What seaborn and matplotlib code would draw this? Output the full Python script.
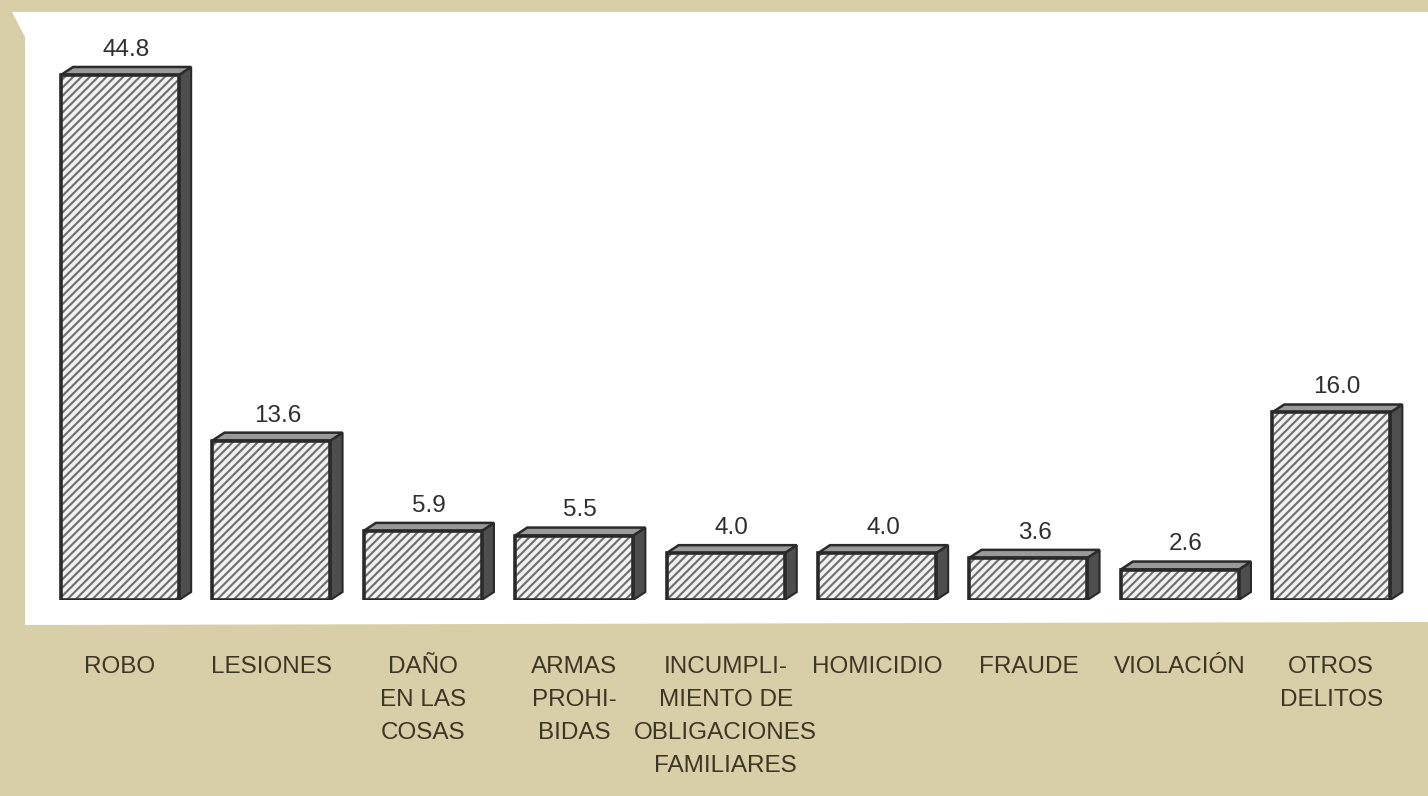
import matplotlib
matplotlib.use('Agg')
import matplotlib.pyplot as plt
import seaborn as sns
import pandas as pd
from matplotlib.patches import Polygon

# datos
categorias = ['ROBO', 'LESIONES', 'DAÑO\nEN LAS\nCOSAS', 'ARMAS\nPROHI-\nBIDAS',
              'INCUMPLI-\nMIENTO DE\nOBLIGACIONES\nFAMILIARES', 'HOMICIDIO',
              'FRAUDE', 'VIOLACIÓN', 'OTROS\nDELITOS']
porcentajes = [44.8, 13.6, 5.9, 5.5, 4.0, 4.0, 3.6, 2.6, 16.0]

sns.set_style('white')
plt.rcParams['font.family'] = ['Liberation Sans', 'DejaVu Sans']
plt.rcParams['hatch.linewidth'] = 1.5

W, H = 1428, 796
fig = plt.figure(figsize=(W / 100, H / 100), dpi=100, facecolor='#d8cfa8')

# panel blanco con la esquina recortada
panel_px = [(12, 12), (W, 12), (W, 622), (25, 625), (25, 37)]
fig.patches.append(Polygon([(x / W, 1 - y / H) for x, y in panel_px], closed=True,
                           transform=fig.transFigure, facecolor='white',
                           edgecolor='none', zorder=0))

ax = fig.add_axes([44.3 / W, 196 / H, 1362.6 / W, 586 / H])
ax.set_zorder(2)
ax.set_facecolor('none')

df = pd.DataFrame({'delito': categorias, 'pct': porcentajes})
sns.barplot(data=df, x='delito', y='pct', width=0.78, color='#f2f2f2',
            edgecolor='#6e6e6e', hatch='////', linewidth=0, saturation=1,
            ax=ax, zorder=3)
front = list(ax.patches)

# caras laterales y superiores (efecto 3D)
dx, dy = 0.08, 0.68
for p in front:
    x0, w, h = p.get_x(), p.get_width(), p.get_height()
    x1 = x0 + w
    side = Polygon([(x1, 0), (x1 + dx, dy), (x1 + dx, h + dy), (x1, h)],
                   closed=True, facecolor='#4e4e4e', edgecolor='#2a2a2a',
                   linewidth=1.5, zorder=2)
    top = Polygon([(x0, h), (x0 + dx, h + dy), (x1 + dx, h + dy), (x1, h)],
                  closed=True, facecolor='#9a9a9a', edgecolor='#2a2a2a',
                  linewidth=1.8, zorder=2)
    ax.add_patch(side)
    ax.add_patch(top)

# contorno de la cara frontal
sns.barplot(data=df, x='delito', y='pct', width=0.78, fill=False,
            edgecolor='#2a2a2a', linewidth=2.6, ax=ax, zorder=4)

# etiquetas de valores
for p, v in zip(front, porcentajes):
    xc = p.get_x() + p.get_width() / 2 + dx / 2
    ax.annotate(f'{v:.1f}', (xc, p.get_height() + dy), xytext=(0, 8),
                textcoords='offset points', ha='center', va='baseline',
                fontsize=17.5, color='#2e2e2e')

ax.set_ylim(0, 50)
ax.set_xlim(-0.5, len(categorias) - 0.5)
ax.set_xlabel('')
ax.set_ylabel('')
ax.set_yticks([])
sns.despine(ax=ax, left=True, bottom=True)
ax.tick_params(axis='x', length=0, pad=40, labelsize=17.5, labelcolor='#3e3624')
for lbl in ax.get_xticklabels():
    lbl.set_linespacing(1.65)
    lbl.set_multialignment('center')

fig.savefig('out.png', dpi=100, facecolor=fig.get_facecolor())
